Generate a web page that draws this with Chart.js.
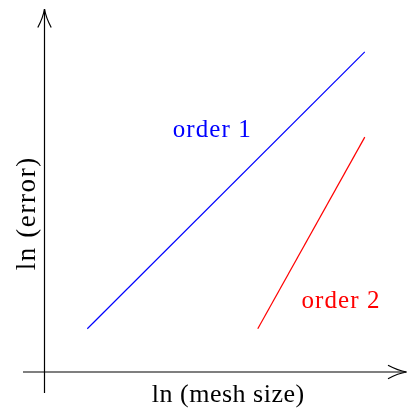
<!DOCTYPE html>
<html lang="en">
<head>
    <meta charset="UTF-8">
    <title>Convergence order</title>
    <style>
        body { margin: 0; background: #fff; }
        #wrap { width: 407px; height: 409px; }
    </style>
</head>
<body>
    <div id="wrap"><canvas id="myChart"></canvas></div>
    <script src="https://cdn.jsdelivr.net/npm/chart.js"></script>
    <script>
    // ln(mesh size) vs ln(error), two reference slopes
    const order1X = [1.2, 8.85];
    const order1Y = [1.19, 8.82];
    const order2X = [5.9, 8.85];
    const order2Y = [1.19, 6.47];

    const xLabel = 'ln (mesh size)';
    const yLabel = 'ln (error)';
    const seriesLabels = ['order 1', 'order 2'];
    const seriesColors = ['#0000ff', '#ff0000'];
    // where the series names sit, in data units (centre x, baseline y)
    const labelPos = [[4.63, 6.47], [8.18, 1.75]];

    const serif = '"Liberation Serif", "DejaVu Serif", serif';

    function toPoints(xs, ys) {
        return xs.map((x, i) => ({ x: x, y: ys[i] }));
    }

    function arrowHead(ctx, tx, ty, dx, dy) {
        // open latex-ish arrow: two slightly curved barbs
        const len = 18.5, spread = 6.7;
        const px = -dy, py = dx;
        ctx.beginPath();
        for (const s of [1, -1]) {
            const ex = tx - dx * len + px * spread * s;
            const ey = ty - dy * len + py * spread * s;
            const cx = tx - dx * len * 0.45 + px * spread * 0.2 * s;
            const cy = ty - dy * len * 0.45 + py * spread * 0.2 * s;
            ctx.moveTo(ex, ey);
            ctx.quadraticCurveTo(cx, cy, tx, ty);
        }
        ctx.stroke();
    }

    function spacedText(ctx, text, x, y, spacing) {
        // letterSpacing adds a gap after the last glyph too, so nudge back half of it
        ctx.letterSpacing = spacing + 'px';
        ctx.fillText(text, x + spacing / 2, y);
        ctx.letterSpacing = '0px';
    }

    const axesPlugin = {
        id: 'axesPlugin',
        afterDatasetsDraw(chart) {
            const ctx = chart.ctx;
            const xs = chart.scales.x, ys = chart.scales.y;
            const ox = Math.round(xs.getPixelForValue(0)) + 0.5;
            const oy = Math.round(ys.getPixelForValue(0));
            const area = chart.chartArea;
            ctx.save();
            ctx.strokeStyle = '#000';
            ctx.lineWidth = 1.2;
            ctx.beginPath();
            ctx.moveTo(area.left + 1, oy);
            ctx.lineTo(area.right, oy);
            ctx.moveTo(ox, area.bottom);
            ctx.lineTo(ox, area.top);
            ctx.stroke();
            arrowHead(ctx, area.right, oy, 1, 0);
            arrowHead(ctx, ox, area.top, 0, -1);

            ctx.font = '25px ' + serif;
            ctx.textAlign = 'center';
            ctx.textBaseline = 'alphabetic';
            seriesLabels.forEach((t, i) => {
                ctx.fillStyle = seriesColors[i];
                spacedText(ctx, t, xs.getPixelForValue(labelPos[i][0]), ys.getPixelForValue(labelPos[i][1]), 1.1);
            });

            ctx.fillStyle = '#000';
            ctx.font = '26px ' + serif;
            spacedText(ctx, xLabel, 228, 401.5, 0.5);
            ctx.font = '27px ' + serif;
            ctx.translate(35, 214);
            ctx.rotate(-Math.PI / 2);
            spacedText(ctx, yLabel, 0, 0, 1.6);
            ctx.restore();
        }
    };

    const ctx = document.getElementById('myChart');
    const myChart = new Chart(ctx, {
        type: 'scatter',
        data: {
            datasets: [{
                label: seriesLabels[0],
                data: toPoints(order1X, order1Y),
                borderColor: seriesColors[0],
                borderWidth: 1.2,
                showLine: true,
                pointRadius: 0
            }, {
                label: seriesLabels[1],
                data: toPoints(order2X, order2Y),
                borderColor: seriesColors[1],
                borderWidth: 1.2,
                showLine: true,
                pointRadius: 0
            }]
        },
        options: {
            responsive: true,
            maintainAspectRatio: false,
            animation: false,
            layout: { padding: { left: 22, right: 0.5, top: 9, bottom: 16 } },
            plugins: { legend: { display: false }, tooltip: { enabled: false } },
            scales: {
                x: { type: 'linear', min: -0.6, max: 10, display: false },
                y: { type: 'linear', min: -0.58, max: 10, display: false }
            }
        },
        plugins: [axesPlugin]
    });
    </script>
</body>
</html>
